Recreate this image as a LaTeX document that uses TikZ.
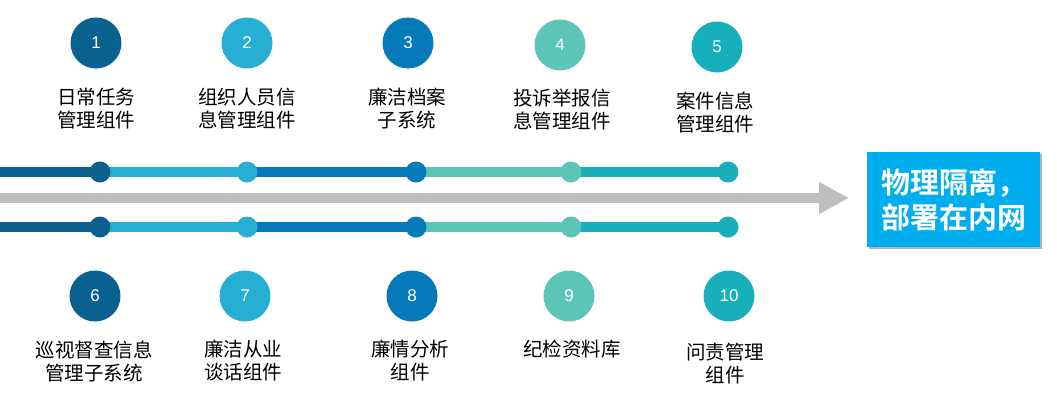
\documentclass[tikz,border=0pt]{standalone}
\usepackage{fontspec}
\setmainfont{Liberation Sans}
\newfontfamily\cjk{Noto Sans CJK SC}
\newfontfamily\cjkb{Noto Sans CJK SC Bold}
\usetikzlibrary{arrows.meta}
\definecolor{cA}{HTML}{0A6190}
\definecolor{cB}{HTML}{27AFD3}
\definecolor{cC}{HTML}{0679BB}
\definecolor{cD}{HTML}{5BC5B8}
\definecolor{cE}{HTML}{17B0BA}
\definecolor{gline}{HTML}{BEBEBE}
\definecolor{boxc}{HTML}{00AEEF}
\tikzset{
  numc/.style={circle,fill=#1,minimum size=51pt,inner sep=0pt,text=white,font=\fontsize{17}{19}\selectfont},
  dotc/.style={circle,fill=#1,minimum size=21pt,inner sep=0pt},
  seg/.style={draw=#1,line width=10pt},
  lbl/.style={align=center,font=\cjk\fontsize{19.5}{23}\selectfont,text=black,inner sep=0pt},
}
\begin{document}
\begin{tikzpicture}[x=1pt,y=-1pt]
\useasboundingbox (0,0) rectangle (1057,408);
% gray arrow
\coordinate (gs) at (0,198);
\coordinate (ge) at (849,198);
\draw[gline,line width=10pt,-{Triangle[length=30pt,width=30pt]}] (gs) -- (ge);
% line starts
\coordinate (ts) at (0,172);
\coordinate (bs) at (0,227);
% dots
\foreach \n/\x/\c in {1/100/cA,2/247/cB,3/416/cC,4/571/cD,5/728/cE}{
  \coordinate (t\n) at (\x,172);
  \coordinate (b\n) at (\x,227);
}
\draw[seg=cA] (ts) -- (t1);
\draw[seg=cB] (t1) -- (t2);
\draw[seg=cC] (t2) -- (t3);
\draw[seg=cD] (t3) -- (t4);
\draw[seg=cE] (t4) -- (t5);
\draw[seg=cA] (bs) -- (b1);
\draw[seg=cB] (b1) -- (b2);
\draw[seg=cC] (b2) -- (b3);
\draw[seg=cD] (b3) -- (b4);
\draw[seg=cE] (b4) -- (b5);
\foreach \n/\c in {1/cA,2/cB,3/cC,4/cD,5/cE}{
  \node[dotc=\c] (td\n) at (t\n) {};
  \node[dotc=\c] (bd\n) at (b\n) {};
}
% numbered circles
\node[numc=cA] (n1) at (96,43) {1};
\node[numc=cB] (n2) at (247,43) {2};
\node[numc=cC] (n3) at (408,43) {3};
\node[numc=cD] (n4) at (560,45) {4};
\node[numc=cE] (n5) at (717,47) {5};
\node[numc=cA] (n6) at (95,296) {6};
\node[numc=cB] (n7) at (245,296) {7};
\node[numc=cC] (n8) at (412,296) {8};
\node[numc=cD] (n9) at (569,296) {9};
\node[numc=cE] (n10) at (729,296) {10};
% labels
\node[lbl] (l1) at (96,109) {日常任务\\管理组件};
\node[lbl] (l2) at (247,109) {组织人员信\\息管理组件};
\node[lbl] (l3) at (407,109) {廉洁档案\\子系统};
\node[lbl] (l4) at (562,110) {投诉举报信\\息管理组件};
\node[lbl] (l5) at (715,112) {案件信息\\管理组件};
\node[lbl] (l6) at (94,361) {巡视督查信息\\管理子系统};
\node[lbl] (l7) at (243,361) {廉洁从业\\谈话组件};
\node[lbl] (l8) at (410,361) {廉情分析\\组件};
\node[lbl] (l9) at (572,349) {纪检资料库};
\node[lbl] (l10) at (725,364) {问责管理\\组件};
% box
\fill[black!30] (869,154) rectangle (1042,249);
\node[fill=boxc,minimum width=173pt,minimum height=95pt,inner sep=0pt,anchor=north west,
      text=white,align=center,font=\cjkb\fontsize{29}{35}\selectfont] (box) at (867,152) {物理隔离，\\部署在内网};
\end{tikzpicture}
\end{document}
